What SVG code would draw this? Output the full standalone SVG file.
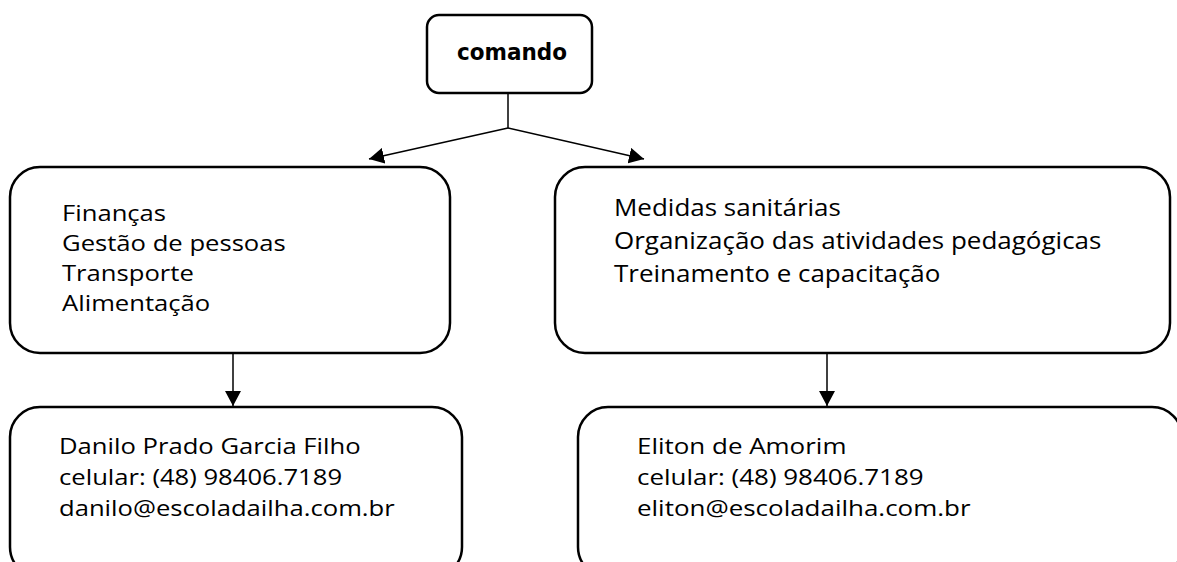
<svg xmlns="http://www.w3.org/2000/svg" width="1177" height="562" viewBox="0 0 1177 562">
<style>
.box{fill:#fff;stroke:#000;stroke-width:2.5}
.t{font-family:"Open Sans","Noto Sans","DejaVu Sans",sans-serif;font-size:22px;fill:#000}
.t23{font-size:23px}
.h{font-family:"DejaVu Sans","Open Sans",sans-serif;font-weight:bold;font-size:23px;fill:#000}
.c{fill:none;stroke:#000;stroke-width:1.5}
</style>
<defs>
<marker id="ah" markerWidth="16" markerHeight="16" refX="15" refY="8" orient="auto" markerUnits="userSpaceOnUse">
<path d="M0,0 L15,8 L0,16 Z" fill="#000"/>
</marker>
</defs>
<rect width="1177" height="562" fill="#fff"/>
<g id="connectors">
<line class="c" x1="508" y1="93" x2="508" y2="128"/>
<line class="c" x1="508" y1="128" x2="369" y2="159" marker-end="url(#ah)"/>
<line class="c" x1="508" y1="128" x2="644" y2="159" marker-end="url(#ah)"/>
<line class="c" x1="233" y1="353" x2="233" y2="406" marker-end="url(#ah)"/>
<line class="c" x1="827" y1="353" x2="827" y2="406" marker-end="url(#ah)"/>
</g>
<g id="comando">
<rect class="box" x="427" y="15" width="165" height="78" rx="12"/>
<text class="h" x="457" y="60" textLength="110" lengthAdjust="spacingAndGlyphs">comando</text>
</g>
<g id="areas-esquerda">
<rect class="box" x="10" y="167" width="440" height="186" rx="30"/>
<g transform="translate(62 0) scale(1.165 1)">
<text class="t" x="0" y="221">Finanças</text>
<text class="t" x="0" y="251">Gestão de pessoas</text>
<text class="t" x="0" y="281">Transporte</text>
<text class="t" x="0" y="311">Alimentação</text>
</g>
</g>
<g id="areas-direita">
<rect class="box" x="555" y="167" width="615" height="186" rx="30"/>
<g transform="translate(614 0) scale(1.13 1)">
<text class="t t23" x="0" y="216">Medidas sanitárias</text>
<text class="t t23" x="0" y="249">Organização das atividades pedagógicas</text>
<text class="t t23" x="0" y="282">Treinamento e capacitação</text>
</g>
</g>
<g id="danilo">
<rect class="box" x="10" y="407" width="452" height="170" rx="30"/>
<g transform="translate(59 0) scale(1.165 1)">
<text class="t" x="0" y="454">Danilo Prado Garcia Filho</text>
<text class="t" x="0" y="485">celular: (48) 98406.7189</text>
<text class="t" x="0" y="516">danilo@escoladailha.com.br</text>
</g>
</g>
<g id="eliton">
<rect class="box" x="578" y="407" width="604" height="170" rx="30"/>
<g transform="translate(637 0) scale(1.18 1)">
<text class="t" x="0" y="454">Eliton de Amorim</text>
<text class="t" x="0" y="485">celular: (48) 98406.7189</text>
<text class="t" x="0" y="516">eliton@escoladailha.com.br</text>
</g>
</g>
</svg>
